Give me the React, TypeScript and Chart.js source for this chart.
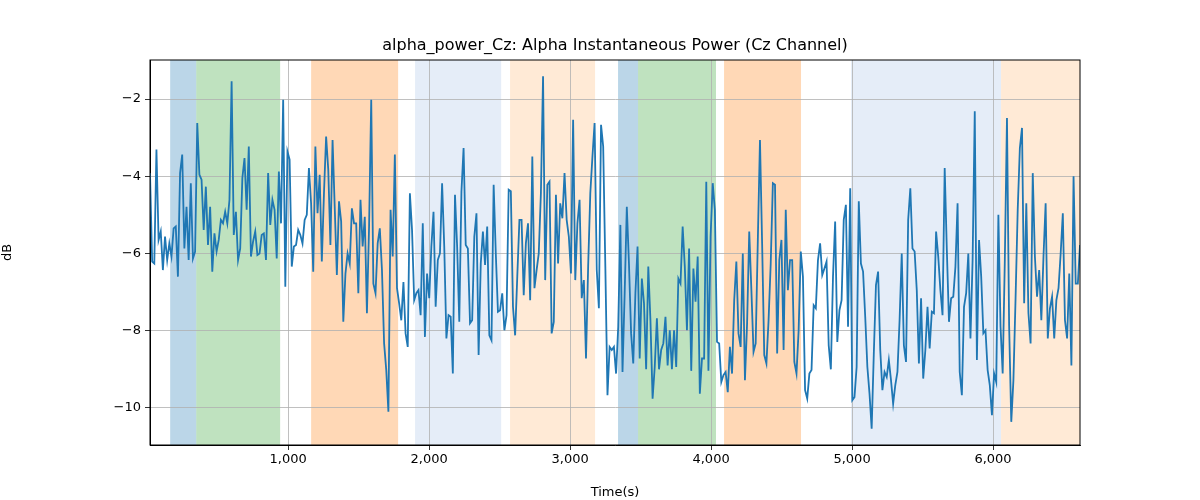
import React, { useEffect, useRef } from "react";
import { Chart, registerables } from "chart.js";
Chart.register(...registerables);

const X_START = 20;
const X_END = 6617;
const seg1 = [-3.92,-6.21,-6.26,-3.31,-5.65,-5.43,-6.43,-5.56,-6.17,-5.74,-6.08,-5.35,-5.3,-6.6,-3.92,-3.44,-5.87,-4.79,-6.17,-4.18,-6.13,-5.95,-2.62,-3.96,-4.09,-5.39,-4.27,-5.78,-4.79,-6.47,-5.48,-5.95,-5.65,-5.13,-5.22,-4.92,-5.22,-4.61,-1.54,-5.52,-4.92,-6.17,-5.87,-4.05,-3.53,-4.87,-3.23,-6.08,-5.69,-5.43,-6.04,-6.0,-5.52,-5.48,-6.17,-3.92,-5.26,-4.61,-4.87,-6.13,-3.88,-5.22,-2.02,-6.86,-3.36,-3.57];
const seg2 = [-6.34,-5.82,-5.78,-5.39,-5.52,-5.74,-5.13,-5.0,-3.79,-4.7,-6.47,-3.23,-4.96,-3.96,-6.21,-4.44,-2.97,-3.83,-5.78,-3.06,-4.79,-6.56,-4.65,-5.17,-7.77,-6.52,-6.0,-6.26,-4.83,-5.22,-5.22,-7.03,-4.61,-5.82,-5.05,-7.55,-5.3,-2.02,-6.78,-7.03,-5.74,-5.35,-6.43,-8.33,-9.02,-10.1,-4.87,-6.08,-3.44,-6.9,-7.29,-7.73,-6.74,-8.07,-8.42,-4.44,-5.39,-7.21,-7.03,-6.95,-7.6,-5.22,-8.16,-6.52,-7.16,-5.82,-4.92,-7.38,-6.17,-6.0,-4.18,-5.82,-8.2,-7.6];
const seg3 = [-7.64,-9.11,-4.48,-5.82,-7.77,-4.4,-3.27,-5.78,-5.87,-7.81,-7.73,-5.56,-4.96,-8.63,-6.26,-5.43,-6.3,-5.3,-8.12,-8.25,-4.22,-6.0,-7.51,-7.47,-7.03,-7.99,-7.6,-4.35,-4.39,-7.38,-8.12,-6.6,-5.13,-5.13,-7.08,-5.74,-5.22,-7.21,-3.49,-6.9,-6.43,-6.0,-4.44,-1.41,-6.69,-4.22,-4.14,-8.07,-7.77,-4.48,-6.26,-4.7,-5.09,-3.92,-5.13,-5.56,-6.52,-2.54,-6.69,-5.22,-4.61,-7.16,-6.69,-8.72,-6.34,-4.44,-3.49,-2.62,-6.43,-7.42,-2.67,-3.23,-6.34,-9.67,-8.42];
const seg4 = [-8.5,-8.42,-9.11,-7.9,-5.26,-9.07,-7.03,-4.79,-6.26,-8.07,-8.85,-7.03,-5.82,-8.72,-6.65,-7.29,-9.0,-6.34,-7.73,-9.76,-8.94,-7.68,-9.0,-8.5,-8.33,-7.64,-8.9,-7.99,-9.0,-7.99,-8.94,-6.65,-6.78,-5.3,-6.34,-7.99,-5.87,-9.04,-6.39,-7.25,-6.08,-9.63,-8.72,-8.72,-4.14,-9.04,-5.56,-4.18,-4.87,-8.29,-8.33,-9.33,-9.15,-9.07,-9.59,-8.42,-9.11,-7.21,-6.21,-8.07,-8.42,-6.0,-9.28,-7.81,-5.43,-6.95,-8.55,-8.33,-5.65,-3.06,-5.74,-8.63,-8.85,-7.73,-6.26,-4.18];
const seg5 = [-4.22,-8.59,-6.17,-5.65,-8.5,-4.87,-6.95,-6.17,-6.17,-8.81,-9.11,-7.99,-5.95,-6.6,-9.54,-9.76,-9.11,-9.02,-7.34,-7.42,-6.17,-5.74,-6.56,-6.39,-6.21,-8.38,-9.0,-6.6,-5.17,-8.29,-7.47,-7.21,-5.13,-4.74,-7.9,-4.31,-9.8,-9.72,-8.94,-4.65,-6.26,-6.47,-7.64,-8.94,-9.63,-10.54,-8.59,-6.82,-6.47,-8.5,-9.54,-9.07,-9.2,-8.76,-9.28,-9.89,-9.41,-9.07,-7.73,-6.0,-8.38,-8.81,-5.13,-4.31,-5.87,-5.95,-6.95,-8.85,-7.16,-9.24,-8.5,-7.38,-8.46,-7.51,-7.55];
const seg6 = [-5.43,-6.08,-6.95,-7.6,-3.79,-5.91,-7.77,-7.16,-7.12,-6.34,-4.7,-9.07,-9.67,-7.38,-7.03,-6.0,-8.2,-6.17,-2.32,-8.76,-5.65,-6.6,-8.07,-7.99,-9.02,-9.41,-10.19,-9.11,-9.33,-5.0,-7.9,-9.11,-6.17,-2.49,-7.86,-10.36,-9.28,-7.16,-4.87,-3.27,-2.75,-7.29,-4.7,-7.55,-8.33,-3.92,-6.08,-7.12,-6.43,-7.73,-6.08,-4.7,-8.2,-7.42,-7.12,-8.2,-7.21,-6.9,-6.0,-4.96,-7.73,-8.2,-6.52,-8.9,-4.0,-6.78,-6.78,-5.78];
const values = [...seg1, ...seg2, ...seg3, ...seg4, ...seg5, ...seg6];

const bandStarts = [163, 348, 1163, 1900, 2574, 3340, 3482, 4092, 4993, 6057];
const bandEnds = [348, 943, 1780, 2511, 3177, 3482, 4035, 4638, 6057, 6617];
const bandColors = [
  "rgba(31,119,180,0.3)", "rgba(44,160,44,0.3)", "rgba(255,127,14,0.3)", "rgba(174,199,232,0.32)", "rgba(255,187,120,0.3)",
  "rgba(31,119,180,0.3)", "rgba(44,160,44,0.3)", "rgba(255,127,14,0.3)", "rgba(174,199,232,0.32)", "rgba(255,187,120,0.3)",
];
const xTicks = [1000, 2000, 3000, 4000, 5000, 6000];
const yTicks = [-10, -8, -6, -4, -2];
const TITLE = "alpha_power_Cz: Alpha Instantaneous Power (Cz Channel)";

export default function App() {
  const ref = useRef<HTMLCanvasElement>(null);
  useEffect(() => {
    document.body.style.margin = "0";
    const step = (X_END - X_START) / (values.length - 1);
    const pts = values.map((v, i) => ({ x: X_START + i * step, y: v }));
    const font = { family: "DejaVu Sans", size: 13 };
    const bands = {
      id: "bands",
      beforeDraw(chart: any) {
        const { ctx, chartArea: a, scales } = chart;
        ctx.save();
        bandStarts.forEach((s, i) => {
          const x0 = scales.x.getPixelForValue(s);
          const x1 = scales.x.getPixelForValue(bandEnds[i]);
          ctx.fillStyle = bandColors[i];
          ctx.fillRect(x0, a.top, x1 - x0, a.bottom - a.top);
        });
        ctx.fillStyle = "#000";
        ctx.font = "16px 'DejaVu Sans'";
        ctx.textAlign = "center";
        ctx.textBaseline = "middle";
        ctx.fillText(TITLE, (a.left + a.right) / 2, 46);
        ctx.restore();
      },
      afterDraw(chart: any) {
        const { ctx, chartArea: a } = chart;
        ctx.save();
        ctx.strokeStyle = "#000";
        ctx.lineWidth = 1;
        ctx.strokeRect(a.left, a.top, a.right - a.left, a.bottom - a.top);
        ctx.restore();
      },
    };
    const chart = new Chart(ref.current!, {
      type: "line",
      data: {
        datasets: [{ data: pts, borderColor: "#1f77b4", borderWidth: 1.8, pointRadius: 0, tension: 0 }],
      },
      options: {
        animation: false,
        responsive: false,
        parsing: false,
        layout: { padding: { top: 60, right: 120, left: 0, bottom: 0 } },
        plugins: { legend: { display: false }, tooltip: { enabled: false } },
        scales: {
          x: {
            type: "linear",
            min: X_START,
            max: X_END,
            afterBuildTicks: (s: any) => { s.ticks = xTicks.map((v) => ({ value: v })); },
            afterFit: (s: any) => { s.height = 55; },
            ticks: { color: "#000", font, padding: 2, maxRotation: 0 },
            grid: { color: "#b0b0b0", lineWidth: 0.8, tickLength: 5, tickColor: "#000" },
            border: { color: "#000" },
            title: { display: true, text: "Time(s)", color: "#000", font, padding: 0 },
          },
          y: {
            min: -10.96,
            max: -0.99,
            afterBuildTicks: (s: any) => { s.ticks = yTicks.map((v) => ({ value: v })); },
            afterFit: (s: any) => { s.width = 150; },
            ticks: { color: "#000", font, padding: 4, callback: (v: any) => String(v).replace("-", "\u2212") },
            grid: { color: "#b0b0b0", lineWidth: 0.8, tickLength: 5, tickColor: "#000" },
            border: { color: "#000" },
            title: { display: true, text: "dB", color: "#000", font, padding: { top: 0, bottom: 30 } },
          },
        },
      },
      plugins: [bands],
    });
    return () => chart.destroy();
  }, []);
  return (
    <div style={{ width: 1200, height: 500, background: "#fff" }}>
      <canvas ref={ref} width={1200} height={500} style={{ width: 1200, height: 500 }} />
    </div>
  );
}
